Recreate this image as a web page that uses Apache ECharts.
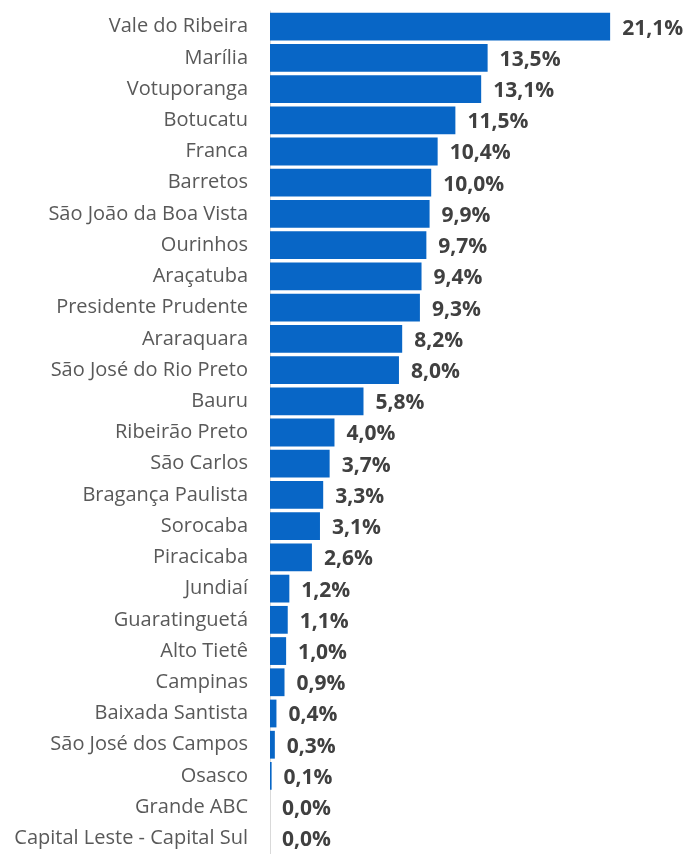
<!DOCTYPE html>
<html><head><meta charset="utf-8">
<script src="https://cdn.jsdelivr.net/npm/echarts@6/dist/echarts.min.js"></script>
<style>html,body{margin:0;padding:0;background:#fff}#c{width:685px;height:854px}</style>
</head><body><div id="c"></div>
<script>
const categories = ["Vale do Ribeira","Marília","Votuporanga","Botucatu","Franca","Barretos","São João da Boa Vista","Ourinhos","Araçatuba","Presidente Prudente","Araraquara","São José do Rio Preto","Bauru","Ribeirão Preto","São Carlos","Bragança Paulista","Sorocaba","Piracicaba","Jundiaí","Guaratinguetá","Alto Tietê","Campinas","Baixada Santista","São José dos Campos","Osasco","Grande ABC","Capital Leste - Capital Sul"];
const values = [21.1,13.5,13.1,11.5,10.4,10.0,9.9,9.7,9.4,9.3,8.2,8.0,5.8,4.0,3.7,3.3,3.1,2.6,1.2,1.1,1.0,0.9,0.4,0.3,0.1,0.0,0.0];
const chart = echarts.init(document.getElementById('c'), null, {renderer:'canvas'});
chart.setOption({
  animation:false,
  grid:{left:270, top:11, width:403, height:850},
  xAxis:{type:'value', min:0, max:25, show:false},
  yAxis:{type:'category', data:categories, inverse:true,
    axisLine:{show:true, lineStyle:{color:'#d9d9d9', width:1}},
    axisTick:{show:false},
    axisLabel:{margin:22, fontFamily:'Open Sans', fontSize:20, color:'#595959'}
  },
  series:[{type:'bar', data:values, barCategoryGap:'11%',
    itemStyle:{color:'#0866C6'},
    label:{show:true, position:'right', distance:12, fontFamily:'Open Sans', fontSize:21, fontWeight:'bold', color:'#404040',
      offset:[0,2],
      formatter:p=>p.value.toFixed(1).replace('.',',')+'%'}
  }]
});
</script></body></html>
